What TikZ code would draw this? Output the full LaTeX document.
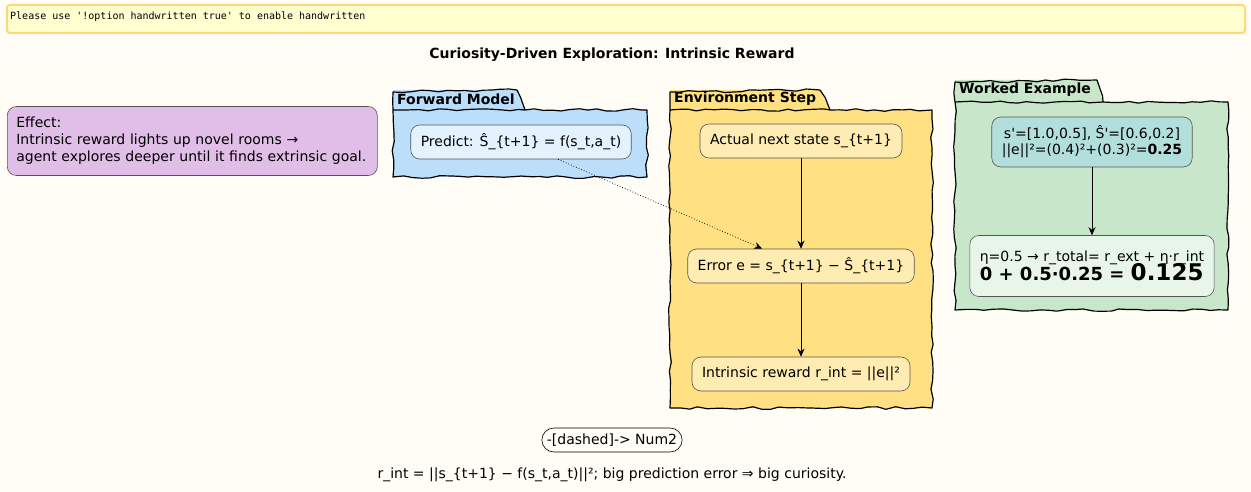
\documentclass[tikz,border=0pt]{standalone}
\usepackage{fontspec}
\setmainfont{DejaVu Sans}[Ligatures=TeXOff]
\setmonofont{DejaVu Sans Mono}[Ligatures=TeXOff]
\usetikzlibrary{arrows.meta,positioning,decorations.pathmorphing}
\definecolor{fondPage}{HTML}{FFFDF6}
\definecolor{jauneBandeau}{HTML}{FFFFD0}
\definecolor{orBandeau}{HTML}{FFD87C}
\definecolor{mauveNote}{HTML}{E1BEE7}
\definecolor{bleuPaquet}{HTML}{BBDEFB}
\definecolor{bleuNoeud}{HTML}{E3F2FD}
\definecolor{jaunePaquet}{HTML}{FFE082}
\definecolor{jauneNoeud}{HTML}{FFECB3}
\definecolor{vertPaquet}{HTML}{C8E6C9}
\definecolor{vertNoeud}{HTML}{E8F5E9}
\definecolor{turquoiseNoeud}{HTML}{B2DFDB}
\definecolor{grisBord}{HTML}{555555}
\pgfmathsetseed{7}

\begin{document}
\begin{tikzpicture}[x=1pt,y=-1pt,font=\fontsize{14}{17}\selectfont,
  paquet/.style={draw=black,line width=1.2pt,line join=round,
                 decorate,decoration={random steps,segment length=9pt,amplitude=1.3pt}},
  titrePaquet/.style={anchor=west,font=\fontsize{14}{17}\selectfont\bfseries,inner sep=0pt},
  boite/.style={rectangle,rounded corners=9pt,draw=grisBord,line width=0.6pt,
                inner xsep=10pt,minimum height=34pt,align=center},
  fleche/.style={-{Stealth[length=8pt,width=7pt]},black,line width=0.8pt}]

  \useasboundingbox (0,0) rectangle (1251,492);
  \fill[fondPage] (0,0) rectangle (1251,492);

  % bandeau et titre
  \node[draw=orBandeau,fill=jauneBandeau,line width=2pt,rounded corners=3pt,
        minimum width=1238pt,minimum height=28pt,anchor=north west] (bandeau) at (6,4) {};
  \node[anchor=west,font=\ttfamily\fontsize{10}{12}\selectfont,inner sep=0pt] (avis) at (10,17)
    {Please use '!option handwritten true' to enable handwritten};
  \node[font=\fontsize{14}{17}\selectfont\bfseries] (titre) at (612,55)
    {Curiosity-Driven Exploration: Intrinsic Reward};

  % note
  \node[boite,fill=mauveNote,align=left,anchor=west,text width=352pt,
        minimum height=69pt,inner xsep=9pt] (effet) at (7,141)
    {Effect:\\Intrinsic reward lights up novel rooms →\\agent explores deeper until it finds extrinsic goal.};

  % paquets
  \fill[bleuPaquet] (393,90) -- (517,90) -- (525,110) -- (647,110) -- (647,177) -- (393,177) -- cycle;
  \draw[paquet] (393,110) -- (393,92) -- (517,90) -- (525,110) -- (647,110)
                -- (647,177) -- (393,177) -- cycle (393,110) -- (525,110);
  \node[titrePaquet] (tForward) at (397,99) {Forward Model};

  \fill[jaunePaquet] (670,90) -- (820,90) -- (830,110) -- (932,110) -- (932,408) -- (670,408) -- cycle;
  \draw[paquet] (670,110) -- (670,92) -- (820,90) -- (830,110) -- (932,110)
                -- (932,408) -- (670,408) -- cycle (670,110) -- (830,110);
  \node[titrePaquet] (tEnv) at (674,99) {Environment Step};

  \fill[vertPaquet] (955,80) -- (1097,80) -- (1103,102) -- (1228,102) -- (1228,310) -- (955,310) -- cycle;
  \draw[paquet] (955,102) -- (955,82) -- (1097,80) -- (1103,102) -- (1228,102)
                -- (1228,310) -- (955,310) -- cycle (955,102) -- (1103,102);
  \node[titrePaquet] (tExemple) at (959,90) {Worked Example};

  % noeuds
  \node[boite,fill=bleuNoeud] (predict) at (521,142) {Predict: Ŝ\_\{t+1\} = f(s\_t,a\_t)};
  \node[boite,fill=jauneNoeud] (actual) at (801,141) {Actual next state s\_\{t+1\}};
  \node[boite,fill=jauneNoeud] (error) at (801,266) {Error e = s\_\{t+1\} − Ŝ\_\{t+1\}};
  \node[boite,fill=jauneNoeud] (intrinsic) at (801,374) {Intrinsic reward r\_int = ||e||²};
  \node[boite,fill=turquoiseNoeud,minimum height=50pt,font=\fontsize{14}{16}\selectfont] (exHaut) at (1092,142)
    {s'=[1.0,0.5], Ŝ'=[0.6,0.2]\\||e||²=(0.4)²+(0.3)²=\textbf{0.25}};
  \node[boite,fill=vertNoeud,minimum height=61pt,align=left] (exBas) at (1092,266)
    {η=0.5 → r\_total= r\_ext + η·r\_int\\[-3pt]
     {\fontsize{18}{20}\selectfont\bfseries 0 + 0.5·0.25 = }{\fontsize{23}{20}\selectfont\bfseries 0.125}};
  \node[boite,fill=fondPage,draw=black,rounded corners=12pt,minimum height=24pt,inner xsep=5pt] (num2) at (612,440)
    {-[dashed]-> Num2};
  \node (legende) at (612,475) {r\_int = ||s\_\{t+1\} − f(s\_t,a\_t)||²; big prediction error ⇒ big curiosity.};

  % liens
  \draw[fleche] (actual) -- (error);
  \draw[fleche] (error) -- (intrinsic);
  \draw[fleche] (exHaut) -- (exBas);
  \draw[fleche,dotted,line width=0.7pt] (predict.-25) -- (error.156);
\end{tikzpicture}
\end{document}
